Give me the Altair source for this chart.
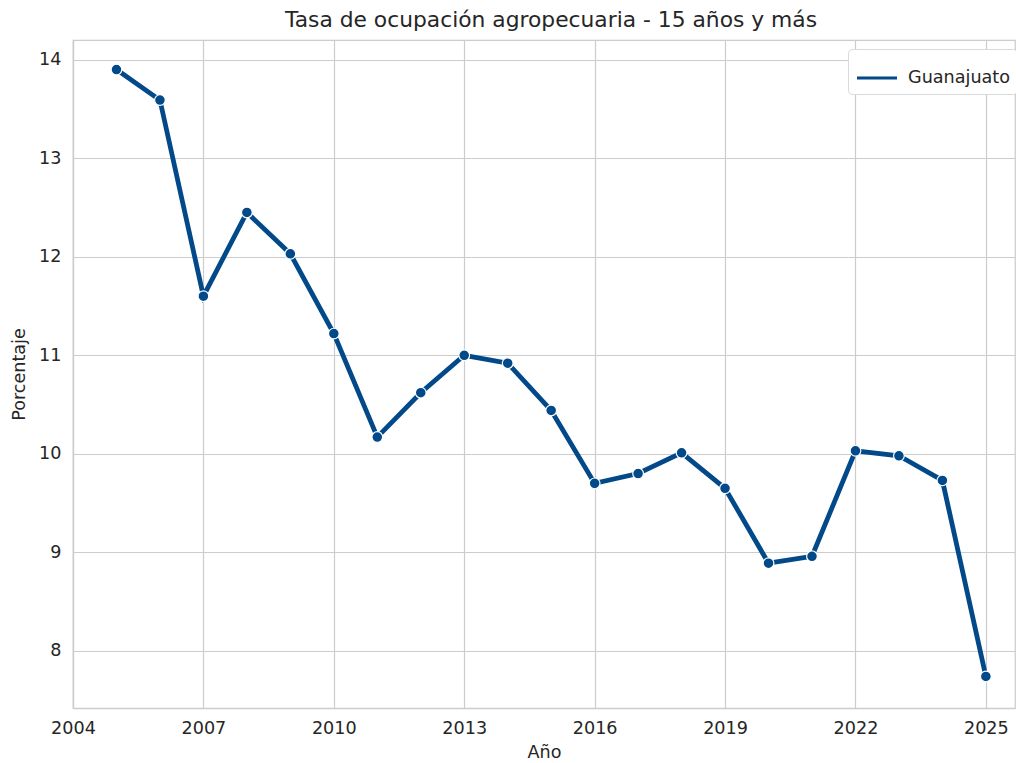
import altair as alt
import pandas as pd

years = list(range(2005, 2026))
values = [13.90, 13.59, 11.60, 12.45, 12.03, 11.22, 10.17, 10.62, 11.00, 10.92,
          10.44, 9.70, 9.80, 10.01, 9.65, 8.89, 8.96, 10.03, 9.98, 9.73, 7.74]
series = ["Guanajuato"] * len(years)
x_ticks = [2004, 2007, 2010, 2013, 2016, 2019, 2022, 2025]
y_ticks = [8, 9, 10, 11, 12, 13, 14]

df = pd.DataFrame({"Año": years, "Porcentaje": values, "Entidad": series})

COLOR = "#02498a"
FONT = "DejaVu Sans"
FS = 17.6

x = alt.X("Año:Q", scale=alt.Scale(domain=[2004, 2025.67], nice=False, zero=False),
          axis=alt.Axis(values=x_ticks, format="d", title="Año"))
y = alt.Y("Porcentaje:Q", scale=alt.Scale(domain=[7.42, 14.2], nice=False, zero=False),
          axis=alt.Axis(values=y_ticks, format="d", title="Porcentaje"))
color = alt.Color("Entidad:N", scale=alt.Scale(range=[COLOR]),
                  legend=alt.Legend(title=None, orient="none", legendX=775, legendY=9,
                                    symbolType="stroke", symbolStrokeWidth=3.2,
                                    symbolSize=1600, labelFontSize=FS, labelFont=FONT,
                                    labelColor="#262626", fillColor="white",
                                    strokeColor="#d9d9d9", cornerRadius=4,
                                    padding=7, labelOffset=9))

line = alt.Chart(df).mark_line(strokeWidth=4.8).encode(x=x, y=y, color=color)
pts = alt.Chart(df).mark_point(filled=True, size=115, stroke="white", strokeWidth=1.2,
                               opacity=1, fill=COLOR).encode(x=x, y=y)

chart = (line + pts).properties(
    width=942, height=668,
    title=alt.Title("Tasa de ocupación agropecuaria - 15 años y más", fontSize=21.8,
                    font=FONT, fontWeight="normal", color="#262626", offset=8, dx=7),
    autosize=alt.AutoSizeParams(type="none"),
    padding={"left": 73, "top": 40, "right": 1, "bottom": 55},
).configure_view(stroke="#cccccc", strokeWidth=1.25).configure_axis(
    grid=True, gridColor="#cccccc", gridWidth=1.2, domainColor="#cccccc", domainWidth=1.25,
    ticks=False, labelFont=FONT, labelFontSize=FS, labelColor="#262626",
    titleFont=FONT, titleFontSize=FS, titleFontWeight="normal", titleColor="#262626",
    labelPadding=10,
).configure_axisX(titlePadding=7, labelFlush=False, labelPadding=11).configure_axisY(titlePadding=10, labelPadding=12)

chart.save("out.html", embed_options={"renderer": "svg", "actions": False})
